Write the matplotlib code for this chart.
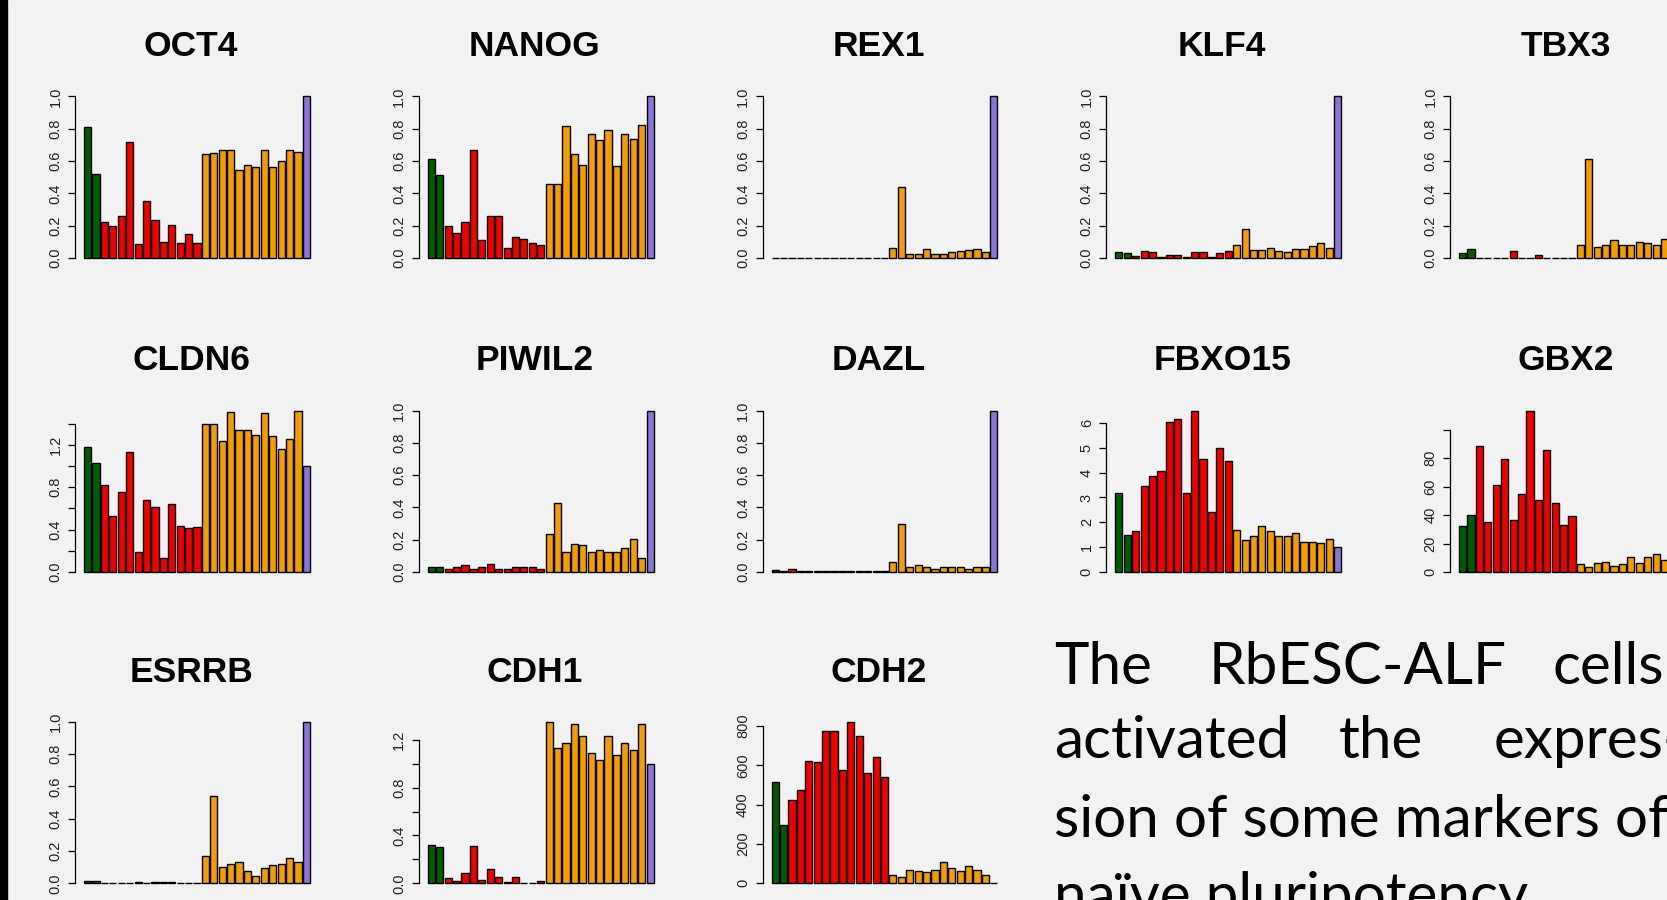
import matplotlib
matplotlib.use("Agg")
import matplotlib.pyplot as plt
from matplotlib.patches import Rectangle

# === Expression values per gene (2 green, 12 red, 12 orange, 1 purple) ===
genes = ["OCT4", "NANOG", "REX1", "KLF4", "TBX3",
         "CLDN6", "PIWIL2", "DAZL", "FBXO15", "GBX2",
         "ESRRB", "CDH1", "CDH2"]

oct4 = [0.814, 0.52,
        0.22, 0.20, 0.262, 0.72, 0.087, 0.355, 0.235, 0.10, 0.206, 0.093, 0.15, 0.093,
        0.641, 0.65, 0.666, 0.666, 0.546, 0.577, 0.563, 0.666, 0.563, 0.602, 0.666, 0.658,
        1.0]
nanog = [0.611, 0.516,
         0.20, 0.152, 0.222, 0.667, 0.113, 0.257, 0.263, 0.064, 0.128, 0.119, 0.09, 0.078,
         0.459, 0.459, 0.815, 0.642, 0.578, 0.767, 0.73, 0.792, 0.57, 0.767, 0.737, 0.823,
         1.0]
rex1 = [0.0, 0.0,
        0.0, 0.0, 0.0, 0.0, 0.0, 0.0, 0.0, 0.0, 0.0, 0.0, 0.0, 0.0,
        0.062, 0.437, 0.025, 0.025, 0.056, 0.025, 0.025, 0.035, 0.041, 0.049, 0.056, 0.039,
        1.0]
klf4 = [0.039, 0.033,
        0.014, 0.045, 0.037, 0.008, 0.016, 0.016, 0.008, 0.039, 0.039, 0.008, 0.031, 0.045,
        0.082, 0.181, 0.052, 0.052, 0.062, 0.045, 0.037, 0.056, 0.056, 0.072, 0.095, 0.062,
        1.0]
tbx3 = [0.033, 0.056,
        0.0, 0.0, 0.0, 0.0, 0.045, 0.0, 0.0, 0.016, 0.0, 0.0, 0.0, 0.0,
        0.078, 0.612, 0.068, 0.078, 0.109, 0.078, 0.078, 0.101, 0.095, 0.078, 0.118, 0.10,
        1.0]
cldn6 = [1.184, 1.027,
         0.823, 0.531, 0.751, 1.128, 0.192, 0.675, 0.616, 0.132, 0.641, 0.437, 0.412, 0.424,
         1.392, 1.392, 1.235, 1.514, 1.341, 1.341, 1.294, 1.502, 1.285, 1.162, 1.257, 1.524,
         1.0]
piwil2 = [0.031, 0.031,
          0.021, 0.031, 0.041, 0.021, 0.031, 0.047, 0.021, 0.021, 0.031, 0.031, 0.031, 0.021,
          0.237, 0.427, 0.124, 0.175, 0.165, 0.124, 0.134, 0.124, 0.124, 0.148, 0.206, 0.087,
          1.0]
dazl = [0.014, 0.006,
        0.016, 0.004, 0.004, 0.004, 0.004, 0.004, 0.004, 0.004, 0.004, 0.004, 0.004, 0.004,
        0.062, 0.299, 0.031, 0.045, 0.031, 0.021, 0.031, 0.031, 0.031, 0.021, 0.031, 0.031,
        1.0]
fbxo15 = [3.19, 1.50,
          1.64, 3.45, 3.87, 4.08, 6.04, 6.17, 3.18, 6.50, 4.54, 2.42, 4.99, 4.48,
          1.70, 1.28, 1.45, 1.87, 1.64, 1.45, 1.45, 1.58, 1.21, 1.21, 1.17, 1.34,
          1.0]
gbx2 = [32.5, 40.2,
        88.2, 34.9, 61.3, 79.3, 36.7, 55.0, 113.5, 50.3, 85.4, 48.4, 33.2, 39.5,
        5.6, 3.3, 6.3, 7.3, 4.4, 5.4, 10.8, 6.3, 10.8, 12.6, 8.7, 9.0,
        1.0]
esrrb = [0.014, 0.014,
         0.002, 0.002, 0.002, 0.002, 0.006, 0.002, 0.006, 0.006, 0.006, 0.002, 0.002, 0.002,
         0.167, 0.539, 0.103, 0.12, 0.134, 0.079, 0.045, 0.093, 0.112, 0.12, 0.159, 0.132,
         1.0]
cdh1 = [0.318, 0.301,
        0.042, 0.02, 0.084, 0.313, 0.028, 0.117, 0.056, 0.008, 0.05, 0.006, 0.006, 0.02,
        1.351, 1.136, 1.172, 1.331, 1.234, 1.094, 1.03, 1.234, 1.072, 1.172, 1.116, 1.331,
        1.0]
cdh2 = [514, 297,
        422, 476, 622, 616, 773, 773, 578, 822, 751, 560, 645, 541,
        43, 32, 70, 65, 60, 70, 108, 76, 65, 86, 70, 40,
        1.0]

values = [oct4, nanog, rex1, klf4, tbx3,
          cldn6, piwil2, dazl, fbxo15, gbx2,
          esrrb, cdh1, cdh2]

# y axis ticks and labels (R drops labels that would overlap)
unit_ticks = [0, 0.2, 0.4, 0.6, 0.8, 1.0]
unit_labels = ["0.0", "0.2", "0.4", "0.6", "0.8", "1.0"]
yticks = {
    "CLDN6": ([0, 0.2, 0.4, 0.6, 0.8, 1.0, 1.2, 1.4], ["0.0", "", "0.4", "", "0.8", "", "1.2", ""]),
    "FBXO15": ([0, 1, 2, 3, 4, 5, 6], ["0", "1", "2", "3", "4", "5", "6"]),
    "GBX2": ([0, 20, 40, 60, 80, 100], ["0", "20", "40", "60", "80", ""]),
    "CDH1": ([0, 0.2, 0.4, 0.6, 0.8, 1.0, 1.2], ["0.0", "", "0.4", "", "0.8", "", "1.2"]),
    "CDH2": ([0, 200, 400, 600, 800], ["0", "200", "400", "600", "800"]),
}

group_sizes = [2, 12, 12, 1]
group_colors = ["#005c00", "#f20000", "#f29d00", "#8c74d6"]
bar_colors = []
for n, c in zip(group_sizes, group_colors):
    bar_colors += [c] * n

# === Layout (pixels) ===
W, H = 1667, 900
BG = "#f2f2f2"
col_left = [75, 418.75, 762.5, 1106.25, 1450]
row_zero = [258, 572, 883.3]
span_px = 161.5
ax_w = 244

fig = plt.figure(figsize=(W / 100, H / 100), dpi=100, facecolor=BG)

for k, (gene, vals) in enumerate(zip(genes, values)):
    r, c = divmod(k, 5)
    left = col_left[c]
    bottom = row_zero[r] + 0.04 * span_px
    height = 1.08 * span_px
    ax = fig.add_axes([left / W, 1 - bottom / H, ax_w / W, height / H])
    ax.set_facecolor(BG)
    ax.patch.set_alpha(0)

    x = list(range(len(vals)))
    ax.bar(x, vals, width=0.85, color=bar_colors, edgecolor="black", linewidth=1.0)
    vmax = max(vals)
    ax.set_xlim(-1.5, 27.5)
    ax.set_ylim(-0.04 * vmax, 1.04 * vmax)

    ticks, labels = yticks.get(gene, (unit_ticks, unit_labels))
    ax.set_yticks(ticks)
    ax.set_yticklabels(labels, rotation=90, va="center", family="Liberation Sans",
                       fontsize=10.5, color="#222222")
    ax.tick_params(axis="y", direction="out", length=5, width=0.9, pad=4)
    ax.set_xticks([])
    for s in ["top", "right", "bottom"]:
        ax.spines[s].set_visible(False)
    ax.spines["left"].set_bounds(ticks[0], ticks[-1])
    ax.spines["left"].set_linewidth(0.9)

    # title above each panel
    title_y = [46.8, 360, 672][r]
    fig.text((left + ax_w / 2 - 6) / W, 1 - title_y / H, gene, ha="center", va="center",
             family="Liberation Sans", fontweight="bold", fontsize=25.5)

# === Slide text on the right of the last row ===
txt = dict(family="Lato", fontsize=42, color="black", va="baseline", ha="left")
fig.text(1054 / W, 1 - 683.5 / H, "The", **txt)
fig.text(1209 / W, 1 - 683.5 / H, "RbESC-ALF", **txt)
fig.text(1552 / W, 1 - 683.5 / H, "cells", **txt)
fig.text(1054 / W, 1 - 758 / H, "activated", **txt)
fig.text(1339 / W, 1 - 758 / H, "the", **txt)
fig.text(1494 / W, 1 - 758 / H, "expres-", **txt)
fig.text(1054 / W, 1 - 836.6 / H, "sion of some markers of", **txt)
fig.text(1054 / W, 1 - 914 / H, "naïve pluripotency.", **txt)

# dark strip at the left edge of the slide
fig.patches.append(Rectangle((0, 0), 7 / W, 1, transform=fig.transFigure,
                             color="black", zorder=10))

plt.savefig("out.png", dpi=100, facecolor=BG)
